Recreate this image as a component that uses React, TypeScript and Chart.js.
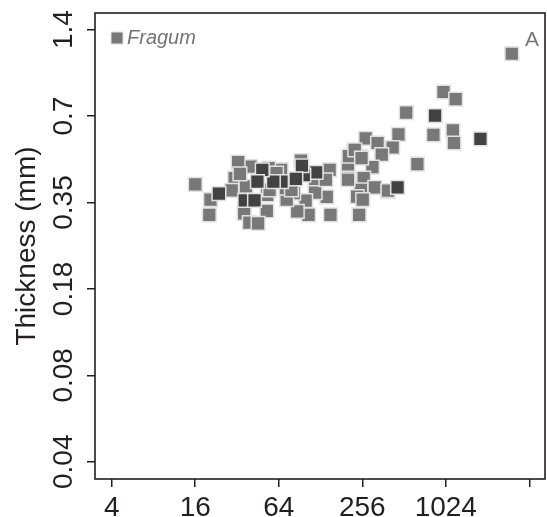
import React, { useEffect, useRef } from 'react';
import { Chart, registerables } from 'chart.js';

Chart.register(...registerables);

// Gray ("Fragum") specimens: x = size, y = thickness (mm)
const grayX = [
  3064, 986, 1207, 531, 467, 834, 1152, 1173, 639, 271, 330, 424, 354, 223, 249, 202, 303, 262, 202, 315,
  250, 235, 393, 243, 151, 142, 149, 92.5, 117, 117, 100, 105, 87, 82, 73, 66.5, 58.8, 54, 40, 32.6,
  30.8, 37.1, 29.3, 20.6, 16.0, 20.2, 52.5, 36.0, 39.3, 45.4, 52.8, 72.1, 258, 205, 140, 392, 61.7, 79,
  226, 253, 202, 55, 33.6,
];
const grayY = [
  1.154, 0.849, 0.802, 0.72, 0.604, 0.602, 0.624, 0.564, 0.476, 0.585, 0.564, 0.544, 0.514, 0.527, 0.505, 0.467, 0.465, 0.426, 0.426, 0.395,
  0.387, 0.367, 0.382, 0.317, 0.317, 0.366, 0.455, 0.49, 0.414, 0.379, 0.355, 0.317, 0.326, 0.377, 0.358, 0.455, 0.437, 0.461, 0.467, 0.484,
  0.426, 0.398, 0.386, 0.358, 0.405, 0.317, 0.327, 0.321, 0.298, 0.296, 0.372, 0.393, 0.358, 0.508, 0.42, 0.385, 0.443, 0.387,
  0.534, 0.5, 0.42, 0.387, 0.44,
];

// Dark specimens
const darkX = [857, 1820, 460, 119, 97, 94, 85, 67, 58.5, 48.7, 44.9, 23.7, 36.4, 42.8];
const darkY = [0.702, 0.583, 0.395, 0.446, 0.436, 0.47, 0.423, 0.414, 0.414, 0.455, 0.414, 0.376, 0.356, 0.356];

const xTickValues = [4, 16, 64, 256, 1024, 4096];
const xTickLabels = ['4', '16', '64', '256', '1024', ''];
const yTickValues = [1.4, 0.7, 0.35, 0.175, 0.0875, 0.04375];
const yTickLabels = ['1.4', '0.7', '0.35', '0.18', '0.08', '0.04'];

const X_MIN = 3.03;
const X_MAX = 5316;
const Y_MIN = 0.0381;
const Y_MAX = 1.6;

const yTitle = 'Thickness (mm)';
const legendLabel = 'Fragum';
const panelLetter = 'A';

const INK = '#231f20';
const GRAY = '#787878';
const DARK = '#424242';
const EDGE = '#e2e2e2';
const FONT = '"Liberation Sans", Arial, Helvetica, sans-serif';

const overlay = {
  id: 'overlay',
  afterDraw(chart: any) {
    const { ctx, chartArea: a, scales } = chart;
    ctx.save();
    // box
    ctx.strokeStyle = INK;
    ctx.lineWidth = 1.6;
    ctx.strokeRect(a.left, a.top, a.right - a.left, a.bottom - a.top);

    ctx.fillStyle = INK;
    ctx.font = `28px ${FONT}`;
    ctx.textAlign = 'center';
    ctx.textBaseline = 'alphabetic';
    xTickValues.forEach((v, i) => {
      const lbl = xTickLabels[i];
      if (!lbl) return;
      ctx.fillText(lbl, scales.x.getPixelForValue(v), 516);
    });
    yTickValues.forEach((v, i) => {
      const py = scales.y.getPixelForValue(v);
      ctx.save();
      ctx.translate(72, py);
      ctx.rotate(-Math.PI / 2);
      ctx.fillText(yTickLabels[i], 0, 0);
      ctx.restore();
    });
    // y title
    ctx.save();
    ctx.translate(35, (a.top + a.bottom) / 2);
    ctx.rotate(-Math.PI / 2);
    ctx.fillText(yTitle, 0, 0);
    ctx.restore();

    // legend
    ctx.fillStyle = GRAY;
    ctx.strokeStyle = EDGE;
    ctx.lineWidth = 1;
    ctx.fillRect(111, 32, 12, 12);
    ctx.strokeRect(111, 32, 12, 12);
    ctx.fillStyle = '#747474';
    ctx.textAlign = 'left';
    ctx.font = `italic 20px ${FONT}`;
    ctx.fillText(legendLabel, 127, 44);

    ctx.font = `21px ${FONT}`;
    ctx.fillStyle = '#777777';
    ctx.fillText(panelLetter, 525, 46);
    ctx.restore();
  },
};

export default function App() {
  const ref = useRef<HTMLCanvasElement | null>(null);

  useEffect(() => {
    document.body.style.margin = '0';
    const canvas = ref.current;
    if (!canvas) return;
    const toPts = (xs: number[], ys: number[]) => xs.map((x, i) => ({ x, y: ys[i] }));
    const axisGrid = {
      display: true,
      drawOnChartArea: false,
      drawTicks: true,
      tickLength: 8,
      color: INK,
      lineWidth: 1.5,
    };
    const chart = new Chart(canvas, {
      type: 'scatter',
      data: {
        datasets: [
          {
            label: 'dark',
            data: toPts(darkX, darkY),
            pointStyle: 'rect',
            pointRadius: 9.7,
            pointHoverRadius: 9.7,
            backgroundColor: DARK,
            borderColor: EDGE,
            borderWidth: 1.5,
          },
          {
            label: legendLabel,
            data: toPts(grayX, grayY),
            pointStyle: 'rect',
            pointRadius: 9.7,
            pointHoverRadius: 9.7,
            backgroundColor: GRAY,
            borderColor: EDGE,
            borderWidth: 1.5,
          },
        ],
      },
      options: {
        responsive: false,
        animation: false,
        devicePixelRatio: 1,
        layout: { padding: { top: 13, right: 2, left: 0, bottom: 0 }, autoPadding: false },
        plugins: { legend: { display: false }, tooltip: { enabled: false } },
        scales: {
          x: {
            type: 'logarithmic',
            min: X_MIN,
            max: X_MAX,
            grid: axisGrid,
            border: { display: false },
            ticks: { display: false },
            afterBuildTicks: (s: any) => {
              s.ticks = xTickValues.map((v) => ({ value: v }));
            },
            afterFit: (s: any) => {
              s.height = 38;
            },
          },
          y: {
            type: 'logarithmic',
            position: 'left',
            min: Y_MIN,
            max: Y_MAX,
            grid: axisGrid,
            border: { display: false },
            ticks: { display: false },
            afterBuildTicks: (s: any) => {
              s.ticks = yTickValues.map((v) => ({ value: v }));
            },
            afterFit: (s: any) => {
              s.width = 95;
            },
          },
        },
      } as any,
      plugins: [overlay],
    });
    return () => chart.destroy();
  }, []);

  return (
    <div style={{ width: 547, height: 517, background: '#fff' }}>
      <canvas ref={ref} width={547} height={517} />
    </div>
  );
}
